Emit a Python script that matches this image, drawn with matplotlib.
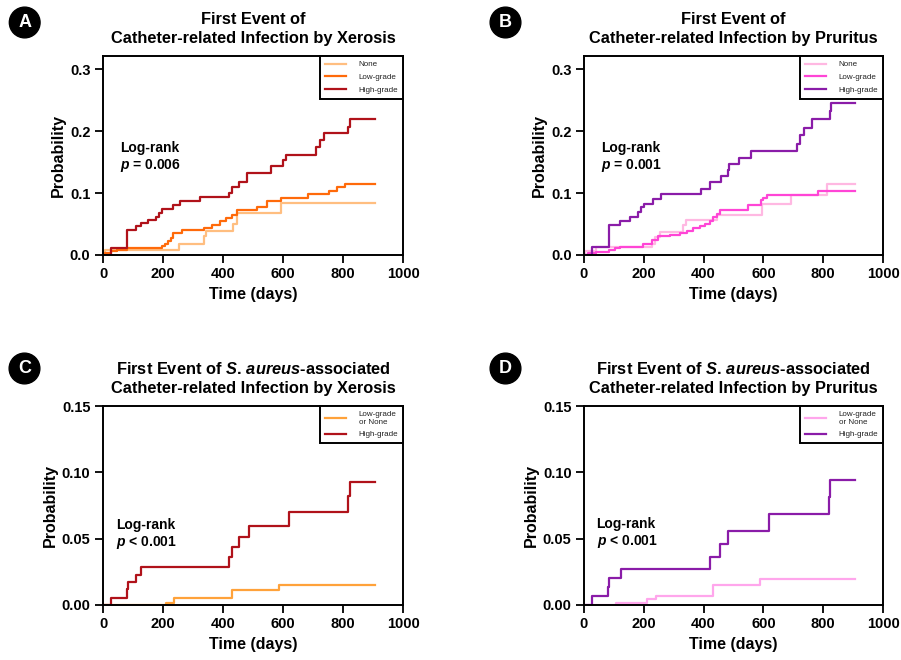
import matplotlib
matplotlib.use('Agg')
import matplotlib.pyplot as plt
from matplotlib.ticker import FormatStrFormatter

plt.rcParams['font.family'] = ['Liberation Sans', 'DejaVu Sans']
plt.rcParams['mathtext.fontset'] = 'custom'
plt.rcParams['mathtext.it'] = 'Liberation Sans:italic:bold'
plt.rcParams['mathtext.rm'] = 'Liberation Sans:bold'
plt.rcParams['mathtext.bf'] = 'Liberation Sans:bold'

# ---- data (day, cumulative probability) ----
A_none_t = [0, 5, 253, 336, 342, 434, 447, 592, 907]
A_none_p = [0, 0.008, 0.017, 0.030, 0.038, 0.050, 0.067, 0.084, 0.084]
A_low_t = [0, 8, 25, 45, 80, 195, 208, 218, 228, 234, 262, 336, 362, 390, 410, 431,
           445, 514, 548, 592, 684, 754, 779, 807, 907]
A_low_p = [0, 0.003, 0.006, 0.008, 0.011, 0.014, 0.018, 0.022, 0.027, 0.035, 0.040, 0.044,
           0.048, 0.055, 0.060, 0.064, 0.073, 0.078, 0.087, 0.092, 0.098, 0.103, 0.109, 0.115, 0.115]
A_high_t = [0, 28, 81, 109, 125, 150, 178, 187, 198, 232, 256, 323, 421, 431, 454, 481,
            560, 601, 610, 710, 724, 735, 818, 824, 907]
A_high_p = [0, 0.011, 0.040, 0.046, 0.052, 0.057, 0.062, 0.067, 0.075, 0.080, 0.087, 0.094,
            0.100, 0.110, 0.118, 0.133, 0.143, 0.153, 0.162, 0.174, 0.185, 0.196, 0.207, 0.220, 0.220]

B_none_t = [0, 3, 40, 226, 237, 253, 332, 341, 444, 594, 692, 814, 907]
B_none_p = [0, 0.006, 0.013, 0.017, 0.029, 0.037, 0.048, 0.056, 0.064, 0.083, 0.097, 0.114, 0.114]
B_low_t = [0, 13, 41, 84, 103, 119, 198, 226, 248, 288, 321, 343, 366, 388, 405, 421,
           432, 444, 455, 548, 591, 600, 611, 784, 907]
B_low_p = [0, 0.003, 0.005, 0.008, 0.011, 0.013, 0.018, 0.025, 0.030, 0.032, 0.035, 0.039,
           0.043, 0.046, 0.050, 0.055, 0.061, 0.066, 0.072, 0.080, 0.088, 0.092, 0.096, 0.103, 0.103]
B_high_t = [0, 28, 84, 121, 153, 181, 192, 199, 231, 259, 392, 420, 459, 482, 485, 518,
            560, 713, 724, 735, 761, 822, 827, 907]
B_high_p = [0, 0.013, 0.048, 0.055, 0.062, 0.069, 0.077, 0.083, 0.090, 0.099, 0.107, 0.117,
            0.127, 0.137, 0.146, 0.157, 0.167, 0.179, 0.193, 0.205, 0.219, 0.232, 0.245, 0.245]

C_low_t = [0, 209, 237, 431, 585, 907]
C_low_p = [0, 0.0018, 0.005, 0.0113, 0.015, 0.015]
C_high_t = [0, 28, 80, 83, 109, 125, 421, 431, 454, 485, 621, 818, 824, 907]
C_high_p = [0, 0.0055, 0.012, 0.017, 0.0226, 0.0284, 0.036, 0.044, 0.0515, 0.0595,
            0.070, 0.082, 0.093, 0.093]

D_low_t = [0, 108, 212, 240, 431, 587, 907]
D_low_p = [0, 0.0013, 0.0043, 0.0068, 0.015, 0.0193, 0.0193]
D_high_t = [0, 28, 80, 84, 125, 420, 456, 483, 619, 818, 824, 907]
D_high_p = [0, 0.0068, 0.0133, 0.020, 0.027, 0.0364, 0.046, 0.0558, 0.0683, 0.0817, 0.094, 0.094]

xticks = [0, 200, 400, 600, 800, 1000]
yticks_ab = [0.0, 0.1, 0.2, 0.3]
yticks_cd = [0.00, 0.05, 0.10, 0.15]

panels = [
    dict(letter='A', rect=(103, 56, 300, 199), ylim=0.321, yticks=yticks_ab, fmt='%.1f',
         title=['First Event of', 'Catheter-related Infection by Xerosis'],
         curves=[(A_none_t, A_none_p, '#FFBE80', 'None'),
                 (A_low_t, A_low_p, '#FF6A0A', 'Low-grade'),
                 (A_high_t, A_high_p, '#B0121A', 'High-grade')],
         pval='$p$ = 0.006', txt=(0.057, 0.5165, 0.4335), bloc=(24.7, 22.5)),
    dict(letter='B', rect=(584, 56, 299, 199), ylim=0.321, yticks=yticks_ab, fmt='%.1f',
         title=['First Event of', 'Catheter-related Infection by Pruritus'],
         curves=[(B_none_t, B_none_p, '#FFB8E2', 'None'),
                 (B_low_t, B_low_p, '#FF45D6', 'Low-grade'),
                 (B_high_t, B_high_p, '#8A1CA8', 'High-grade')],
         pval='$p$ = 0.001', txt=(0.057, 0.5165, 0.4335), bloc=(505.5, 22.5)),
    dict(letter='C', rect=(103, 406, 300, 199), ylim=0.15, yticks=yticks_cd, fmt='%.2f',
         title=[r'First Event of $S.\,aureus$-associated', 'Catheter-related Infection by Xerosis'],
         curves=[(C_low_t, C_low_p, '#FFA23A', 'Low-grade\nor None'),
                 (C_high_t, C_high_p, '#B0121A', 'High-grade')],
         pval='$p$ < 0.001', txt=(0.043, 0.382, 0.298), bloc=(24.5, 368.5)),
    dict(letter='D', rect=(584, 406, 299, 199), ylim=0.15, yticks=yticks_cd, fmt='%.2f',
         title=[r'First Event of $S.\,aureus$-associated', 'Catheter-related Infection by Pruritus'],
         curves=[(D_low_t, D_low_p, '#FFA6EC', 'Low-grade\nor None'),
                 (D_high_t, D_high_p, '#8A1CA8', 'High-grade')],
         pval='$p$ < 0.001', txt=(0.042, 0.385, 0.300), bloc=(505.5, 368.5)),
]

W, H = 901, 660
fig = plt.figure(figsize=(W / 100, H / 100), dpi=100)

for pn in panels:
    l, t, w, h = pn['rect']
    ax = fig.add_axes([l / W, 1 - (t + h) / H, w / W, h / H])
    for tt, pp, col, lab in pn['curves']:
        ax.step(tt, pp, where='post', color=col, lw=1.6, label=lab)
    ax.set_xlim(0, 1000)
    ax.set_ylim(0, pn['ylim'])
    ax.set_xticks(xticks)
    ax.set_yticks(pn['yticks'])
    ax.yaxis.set_major_formatter(FormatStrFormatter(pn['fmt']))
    for s in ax.spines.values():
        s.set_linewidth(1.4)
    ax.tick_params(length=6, width=1.3, pad=3, labelsize=10.5)
    for lb in ax.get_xticklabels() + ax.get_yticklabels():
        lb.set_fontweight('bold')
    ax.set_xlabel('Time (days)', fontsize=11.5, fontweight='bold', labelpad=4)
    ax.set_ylabel('Probability', fontsize=11.5, fontweight='bold', labelpad=3)

    ax.text(0.5, 1.0667, pn['title'][1], transform=ax.transAxes, ha='center',
            va='baseline', fontsize=11.8, fontweight='bold')
    ax.text(0.5, 1.1617, pn['title'][0], transform=ax.transAxes, ha='center',
            va='baseline', fontsize=11.8, fontweight='bold')

    tx, ty1, ty2 = pn['txt']
    ax.text(tx, ty1, 'Log-rank', transform=ax.transAxes, va='baseline',
            fontsize=10, fontweight='bold')
    ax.text(tx, ty2, pn['pval'], transform=ax.transAxes, va='baseline',
            fontsize=10, fontweight='bold')

    leg = ax.legend(loc='upper right', borderaxespad=0, fancybox=False,
                    edgecolor='black', framealpha=1, fontsize=5.8,
                    handlelength=2.7, handletextpad=1.5, labelspacing=0.62,
                    borderpad=0.6)
    leg.get_frame().set_linewidth(1.4)
    for tx_ in leg.get_texts():
        tx_.set_color('#222222')

    bx, by = pn['bloc']
    fig.text(bx / W, 1 - by / H, pn['letter'], ha='center', va='center',
             color='white', fontsize=13, fontweight='bold',
             bbox=dict(boxstyle='circle,pad=0.38', fc='black', ec='black'))

fig.savefig('out.png', dpi=100)
